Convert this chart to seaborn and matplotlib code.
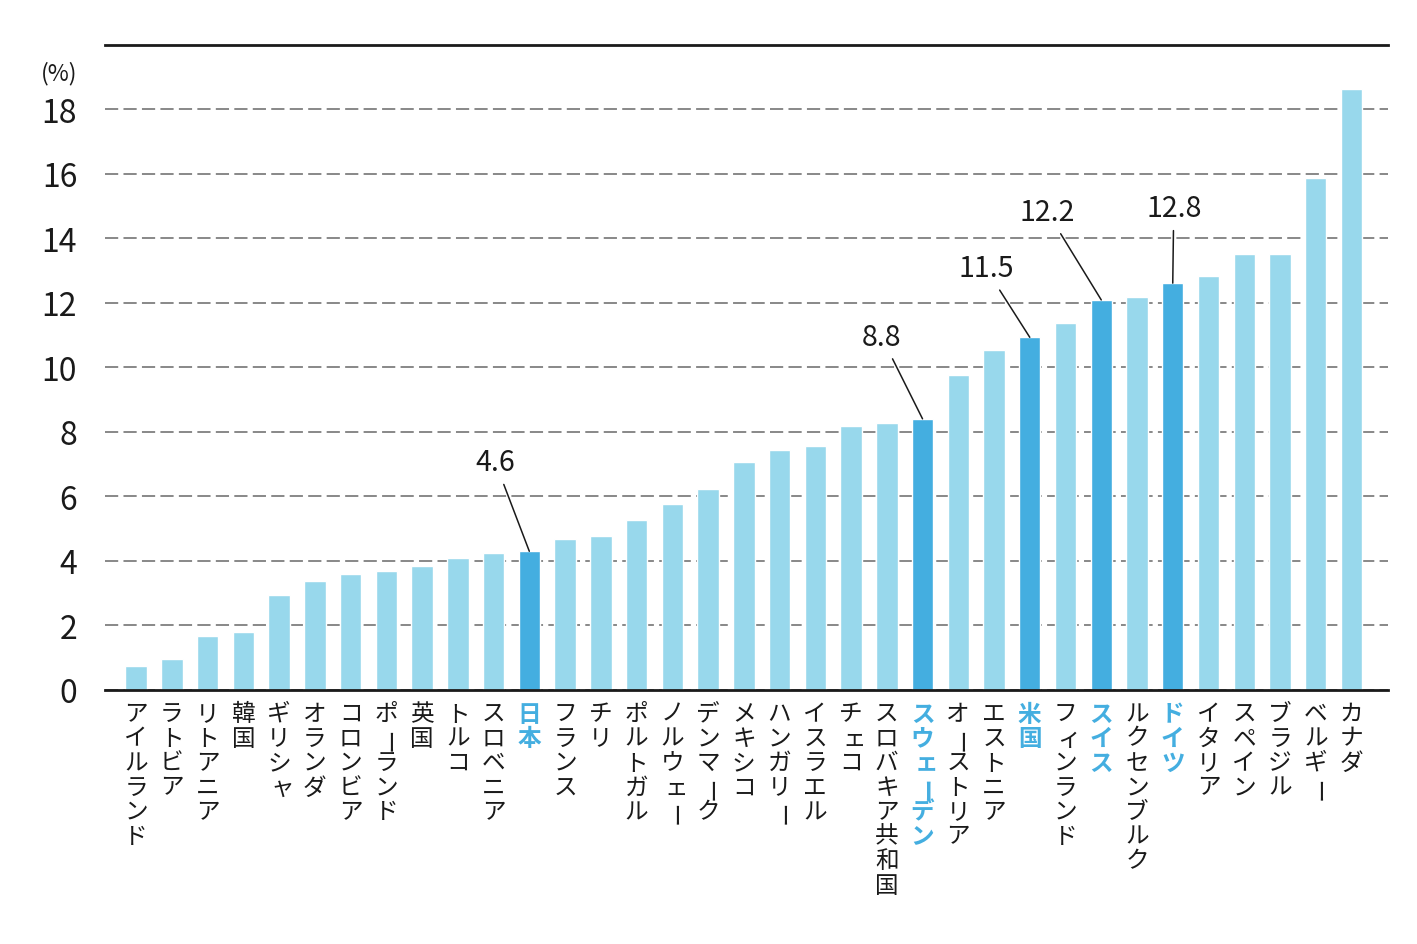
import matplotlib
matplotlib.use('Agg')
import matplotlib.pyplot as plt
import seaborn as sns
import pandas as pd

# data
countries = ['アイルランド', 'ラトビア', 'リトアニア', '韓国', 'ギリシャ', 'オランダ',
             'コロンビア', 'ポーランド', '英国', 'トルコ', 'スロベニア', '日本',
             'フランス', 'チリ', 'ポルトガル', 'ノルウェー', 'デンマーク', 'メキシコ',
             'ハンガリー', 'イスラエル', 'チェコ', 'スロバキア共和国', 'スウェーデン',
             'オーストリア', 'エストニア', '米国', 'フィンランド', 'スイス',
             'ルクセンブルク', 'ドイツ', 'イタリア', 'スペイン', 'ブラジル',
             'ベルギー', 'カナダ']
values = [0.72, 0.94, 1.65, 1.77, 2.93, 3.36, 3.58, 3.67, 3.82, 4.08, 4.24, 4.29,
          4.68, 4.76, 5.25, 5.76, 6.23, 7.07, 7.44, 7.57, 8.18, 8.28, 8.40, 9.77,
          10.53, 10.93, 11.37, 12.09, 12.19, 12.61, 12.82, 13.51, 13.51, 15.86, 18.63]
highlight = ['日本', 'スウェーデン', '米国', 'スイス', 'ドイツ']
highlight_labels = ['4.6', '8.8', '11.5', '12.2', '12.8']
yticks = [0, 2, 4, 6, 8, 10, 12, 14, 16, 18]

light = '#98D8EC'
dark = '#44AEE0'
ink = '#1a1a1a'

sns.set_theme(style='white')
plt.rcParams['font.family'] = ['Noto Sans CJK JP', 'DejaVu Sans']
plt.rcParams['lines.scale_dashes'] = False

df = pd.DataFrame({'country': countries, 'value': values})
colors = [dark if c in highlight else light for c in countries]

fig = plt.figure(figsize=(14.17, 9.45), dpi=100)
ax_rect = [0.0741, 0.2693, 0.9054, 0.6820]
ax = fig.add_axes(ax_rect)
sns.barplot(data=df, x='country', y='value', hue='country', palette=colors,
            width=0.60, saturation=1, legend=False, ax=ax)

ax.set_xlim(-0.87, 35.02)
ax.set_ylim(0, 20)
ax.set_yticks(yticks)
ax.set_xticks(range(len(countries)))
ax.set_xticklabels([])
ax.set_xlabel('')
ax.set_ylabel('')
ax.set_axisbelow(True)
ax.yaxis.grid(True, color='#7f7f7f', linewidth=1.3, linestyle=(0, (9.5, 3.8)))
ax.xaxis.grid(False)
ax.tick_params(axis='both', length=0)
ax.tick_params(axis='y', labelsize=23, pad=20, labelcolor=ink)
for s in ['left', 'right']:
    ax.spines[s].set_visible(False)
for s in ['top', 'bottom']:
    ax.spines[s].set_color(ink)
    ax.spines[s].set_linewidth(2)

ax.text(-0.0218, 0.958, '(%)', transform=ax.transAxes, ha='right', va='center',
        fontsize=16.5, color=ink)

# vertical (top-to-bottom) country labels
trans = ax.get_xaxis_transform()
h_px = ax_rect[3] * 945
small_kana = 'ャュョァィゥェォッ'
for i, name in enumerate(countries):
    hl = name in highlight
    for k, ch in enumerate(name):
        y = -(24 + 24.5 * k) / h_px
        dx, rot = 0, 0
        if ch == 'ー':
            rot = 90
            dx = 0.2
        if ch in small_kana:
            dx = 0.1
        ax.text(i + dx, y, ch, transform=trans, ha='center', va='center',
                rotation=rot, rotation_mode='anchor', fontsize=17,
                color=dark if hl else ink,
                fontweight='bold' if hl else 'normal')

# value callouts
offsets = [(-34, 89), (-41, 82), (-44, 69), (-54, 88), (1, 75)]
for name, txt, (ox, oy) in zip(highlight, highlight_labels, offsets):
    i = countries.index(name)
    ax.annotate(txt, xy=(i, values[i]), xytext=(ox, oy), textcoords='offset pixels',
                ha='center', va='center', fontsize=20.5, color=ink,
                arrowprops=dict(arrowstyle='-', color=ink, lw=1.1,
                                shrinkA=3, shrinkB=0))

fig.savefig('out.png', dpi=100)
